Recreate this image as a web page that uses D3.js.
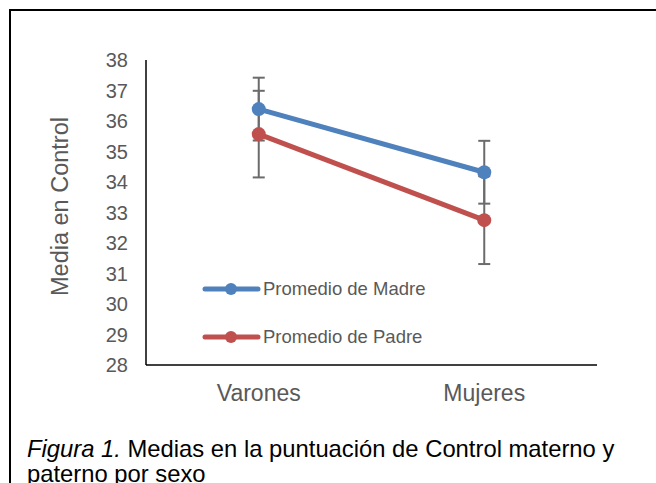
<!DOCTYPE html>
<html>
<head>
<meta charset="utf-8">
<script src="https://cdn.jsdelivr.net/npm/d3@7"></script>
<style>
  body { margin: 0; background: #fff; }
  svg { display: block; font-family: "Liberation Sans", Arial, sans-serif; }
</style>
</head>
<body>
<svg id="chart" width="656" height="483"></svg>
<script>
// datos
const categories = ["Varones", "Mujeres"];
const madre = [36.39, 34.32];
const padre = [35.57, 32.75];
const madreErr = [1.03, 1.03];
const padreErr = [1.42, 1.44];
const yTicks = [28, 29, 30, 31, 32, 33, 34, 35, 36, 37, 38];
const seriesNames = ["Promedio de Madre", "Promedio de Padre"];
const colors = ["#4f81bd", "#c0504d"];

const svg = d3.select("#chart");

// marco exterior (cortado a la derecha y abajo)
svg.append("rect")
  .attr("x", 10).attr("y", 10)
  .attr("width", 700).attr("height", 520)
  .attr("fill", "none").attr("stroke", "#000").attr("stroke-width", 2);

const plotL = 146, plotR = 597, plotT = 60, plotB = 365;

const xScale = d3.scaleBand().domain(categories).range([plotL, plotR]);
const yScale = d3.scaleLinear().domain([28, 38]).range([plotB, plotT]);
const cx = d => xScale(d) + xScale.bandwidth() / 2;

// ejes
svg.append("line")
  .attr("x1", plotL).attr("x2", plotL).attr("y1", plotT).attr("y2", plotB)
  .attr("stroke", "#000").attr("stroke-width", 1.5);
svg.append("line")
  .attr("x1", plotL).attr("x2", plotR).attr("y1", plotB).attr("y2", plotB)
  .attr("stroke", "#000").attr("stroke-width", 1.5);

svg.selectAll(".ytick").data(yTicks).enter().append("text")
  .attr("class", "ytick")
  .attr("x", 128).attr("y", d => yScale(d))
  .attr("dy", "0.35em")
  .attr("text-anchor", "end")
  .attr("font-size", 20).attr("fill", "#595959")
  .text(d => d);

svg.selectAll(".xlab").data(categories).enter().append("text")
  .attr("class", "xlab")
  .attr("x", d => cx(d)).attr("y", 401)
  .attr("text-anchor", "middle")
  .attr("font-size", 23).attr("fill", "#595959")
  .text(d => d);

svg.append("text")
  .attr("transform", `translate(68,${(plotT + plotB) / 2 - 6}) rotate(-90)`)
  .attr("text-anchor", "middle")
  .attr("font-size", 23.5).attr("fill", "#595959")
  .text("Media en Control");

// series
const series = [
  { name: seriesNames[0], values: madre, err: madreErr, color: colors[0] },
  { name: seriesNames[1], values: padre, err: padreErr, color: colors[1] }
];

const line = d3.line().x((v, i) => cx(categories[i])).y(v => yScale(v));

// barras de error
series.forEach(s => {
  const g = svg.append("g").attr("stroke", "#6b6b6b").attr("stroke-width", 2);
  s.values.forEach((v, i) => {
    const x = cx(categories[i]);
    g.append("line").attr("x1", x).attr("x2", x)
      .attr("y1", yScale(v - s.err[i])).attr("y2", yScale(v + s.err[i]));
    [v - s.err[i], v + s.err[i]].forEach(e => {
      g.append("line").attr("x1", x - 6).attr("x2", x + 6)
        .attr("y1", yScale(e)).attr("y2", yScale(e));
    });
  });
});

series.forEach(s => {
  svg.append("path")
    .attr("d", line(s.values))
    .attr("fill", "none").attr("stroke", s.color)
    .attr("stroke-width", 5).attr("stroke-linecap", "round");
  svg.selectAll(null).data(s.values).enter().append("circle")
    .attr("cx", (v, i) => cx(categories[i]))
    .attr("cy", v => yScale(v))
    .attr("r", 7).attr("fill", s.color);
});

// leyenda
const legendY = [289, 337];
series.forEach((s, i) => {
  const g = svg.append("g");
  g.append("line")
    .attr("x1", 205).attr("x2", 258).attr("y1", legendY[i]).attr("y2", legendY[i])
    .attr("stroke", s.color).attr("stroke-width", 5).attr("stroke-linecap", "round");
  g.append("circle").attr("cx", 231).attr("cy", legendY[i]).attr("r", 6).attr("fill", s.color);
  g.append("text")
    .attr("x", 263).attr("y", legendY[i]).attr("dy", "0.35em")
    .attr("font-size", 18.5).attr("fill", "#595959")
    .text(s.name);
});

// pie de figura
const cap = svg.append("text").attr("x", 27).attr("y", 457).attr("font-size", 23.8).attr("fill", "#000");
cap.append("tspan").attr("font-style", "italic").text("Figura 1.");
cap.append("tspan").text(" Medias en la puntuación de Control materno y");
svg.append("text").attr("x", 27).attr("y", 482).attr("font-size", 23.8).attr("fill", "#000")
  .text("paterno por sexo");
</script>
</body>
</html>
